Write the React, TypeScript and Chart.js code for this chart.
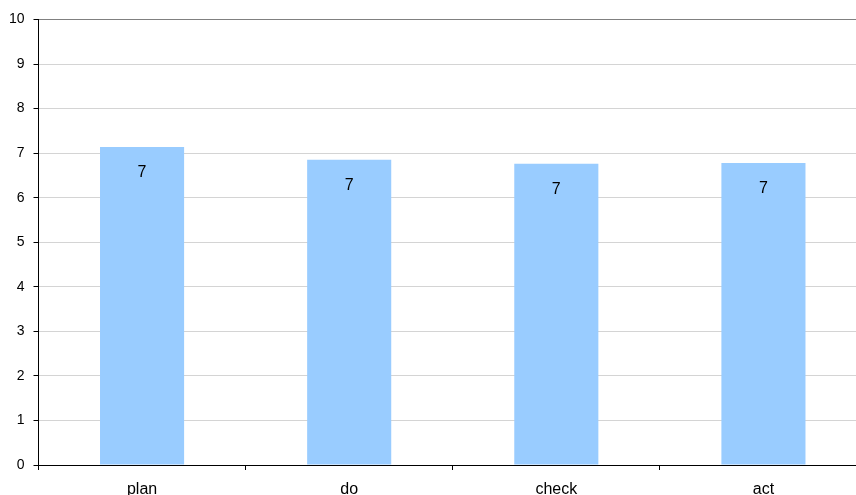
import React, { useEffect, useRef } from "react";
import { Chart, registerables } from "chart.js";

Chart.register(...registerables);

const categories = ["plan", "do", "check", "act"];
const scores = [7.14, 6.85, 6.76, 6.78];
const yTicks = [0, 1, 2, 3, 4, 5, 6, 7, 8, 9, 10];

const FONT = "'Liberation Sans', Arial, sans-serif";

// Writes the rounded value inside each bar, just below its top edge.
const insideLabels = {
  id: "insideLabels",
  afterDatasetsDraw(chart: any) {
    const ctx = chart.ctx;
    const meta = chart.getDatasetMeta(0);
    ctx.save();
    ctx.font = `16px ${FONT}`;
    ctx.fillStyle = "#000";
    ctx.textAlign = "center";
    ctx.textBaseline = "middle";
    meta.data.forEach((bar: any, i: number) => {
      const v = chart.data.datasets[0].data[i] as number;
      ctx.fillText(String(Math.round(v)), bar.x, bar.y + 26);
    });
    ctx.restore();
  },
};

export default function App() {
  const ref = useRef<HTMLCanvasElement | null>(null);

  useEffect(() => {
    if (!ref.current) return;
    const chart = new Chart(ref.current, {
      type: "bar",
      data: {
        labels: categories,
        datasets: [
          {
            data: scores,
            backgroundColor: "#99ccff",
            borderWidth: 0,
            categoryPercentage: 1,
            barPercentage: 0.406,
          },
        ],
      },
      options: {
        animation: false,
        responsive: false,
        maintainAspectRatio: false,
        layout: { padding: { top: 19.5, left: 0, right: 0, bottom: 0 } },
        plugins: {
          legend: { display: false },
          tooltip: { enabled: false },
        },
        scales: {
          x: {
            offset: true,
            grid: {
              offset: true,
              drawOnChartArea: false,
              drawTicks: true,
              tickLength: 5,
              tickColor: "#000",
            },
            border: { color: "#000", width: 1 },
            ticks: {
              color: "#000",
              font: { family: FONT, size: 16 },
              padding: 10,
              maxRotation: 0,
            },
            afterFit(scale: any) {
              scale.height = 35;
            },
          },
          y: {
            min: 0,
            max: 10,
            afterBuildTicks(scale: any) {
              scale.ticks = yTicks.map((v) => ({ value: v }));
            },
            grid: {
              color: (c: any) => (c.tick && c.tick.value === 10 ? "#808080" : "#d4d4d4"),
              tickColor: "#000",
              tickLength: 5,
            },
            border: { color: "#000", width: 1 },
            ticks: {
              color: "#000",
              font: { family: FONT, size: 14 },
              padding: 9,
            },
            afterFit(scale: any) {
              scale.width = 38.5;
            },
          },
        },
      },
      plugins: [insideLabels],
    });
    return () => chart.destroy();
  }, []);

  return (
    <div
      style={{
        position: "fixed",
        left: 0,
        top: 0,
        width: 856,
        height: 495,
        overflow: "hidden",
        background: "#fff",
      }}
    >
      <canvas
        ref={ref}
        width={867}
        height={500}
        style={{ width: 867, height: 500, display: "block" }}
      />
    </div>
  );
}
